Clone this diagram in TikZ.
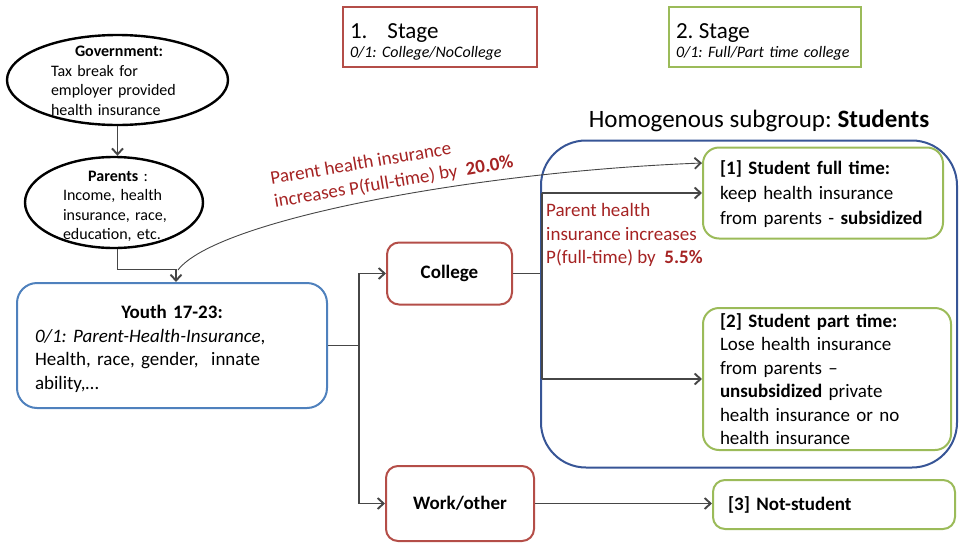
\documentclass[tikz,border=0pt]{standalone}
\usepackage{fontspec}
\setmainfont{Carlito}
\frenchspacing
\usetikzlibrary{positioning, shapes.geometric, arrows.meta, calc}

\definecolor{boxred}{RGB}{180,78,72}
\definecolor{boxgreen}{RGB}{155,187,89}
\definecolor{youthblue}{RGB}{79,129,189}
\definecolor{groupblue}{RGB}{55,85,150}
\definecolor{labelred}{RGB}{165,35,35}
\definecolor{linegray}{RGB}{70,70,70}

\tikzset{
	oval/.style={ellipse, draw=black, line width=2.4pt, inner sep=0pt},
	ovaltext/.style={font=\fontsize{16}{19.5}\selectfont, align=left, inner sep=0pt},
	stagebox/.style={draw=#1, line width=2pt, minimum height=60, inner ysep=0pt, align=left, font=\fontsize{16}{19}\selectfont},
	redbox/.style={draw=boxred, line width=2pt, rounded corners=12pt},
	greenbox/.style={draw=boxgreen, line width=2pt, rounded corners=16pt, align=left},
	conn/.style={draw=linegray, line width=1.1pt},
	arr/.style={conn, -{Straight Barb[length=6pt, width=11pt, line width=1.9pt]}},
	redlabel/.style={text=labelred, align=left, inner sep=0pt},
}

\begin{document}
\begin{tikzpicture}[x=1pt, y=-1pt, font=\fontsize{19}{23.5}\selectfont]
		\useasboundingbox (0,0) rectangle (959,544);
		
		% stages
		\node[stagebox=boxred, minimum width=194, text width=180, inner xsep=7] (stage1) at (440,37) {\rule{0pt}{25pt}{\fontsize{23}{26}\selectfont 1.\hspace{20pt}Stage}\\ \textit{0/1: College/NoCollege}};
		\node[stagebox=boxgreen, minimum width=192, text width=182, inner xsep=5] (stage2) at (765,37) {\rule{0pt}{25pt}\hspace{2pt}{\fontsize{23}{26}\selectfont 2. Stage}\\ \hspace*{2pt}\textit{0/1: Full/Part time college}};
		
		% left column
		\node[oval, minimum width=221, minimum height=90, label={[ovaltext, text width=136, xshift=1.5pt, yshift=-1pt]center:{\makebox[\linewidth]{\textbf{Government:}}\\ Tax break for\\ employer provided\\ health insurance}}] (gov) at (117.5,80) {};
		\node[oval, minimum width=178, minimum height=91, label={[ovaltext, text width=110, xshift=4pt, yshift=-4pt]center:{\makebox[\linewidth]{\textbf{Parents} :}\\ Income, health\\ insurance, race,\\ education, etc.}}] (par) at (114,202.5) {};
		
		\node[draw=youthblue, line width=2pt, rounded corners=20pt, minimum width=310, minimum height=125, text width=274, inner xsep=18, align=left] (youth) at (172,345.5) {\rule{0pt}{20pt}\makebox[\linewidth]{\textbf{Youth 17-23:}}\\ \textit{0/1: Parent-Health-Insurance}, \\ Health, race, gender,\ \ innate\\ ability,…};
		
		\node[redbox, minimum width=125, minimum height=62] (college) at (449.5,273.5) {\textbf{College}};
		\node[redbox, minimum width=148, minimum height=75] (work) at (460,503.5) {\textbf{Work/other}};
		
		% students group
		\node[draw=groupblue, line width=2pt, rounded corners=45pt, minimum width=416, minimum height=327] (stud) at (749,304) {};
		\node[font=\fontsize{25}{29}\selectfont, inner sep=0pt] (studtitle) at (759,121) {Homogenous subgroup: \textbf{Students}};
		
		\node[greenbox, minimum width=240, minimum height=91, text width=206, inner xsep=17, font=\fontsize{19}{25}\selectfont] (full) at (823,193) {\rule{0pt}{17pt}\textbf{[1] Student full time:}\\ keep health insurance\\ from parents - \textbf{subsidized}};
		\node[greenbox, minimum width=248, minimum height=142, text width=214, inner xsep=17, inner ysep=0pt] (part) at (827,379) {\textbf{[2] Student part time:}\\ Lose health insurance\\ from parents --\\ \textbf{unsubsidized} private\\ health insurance or no\\ health insurance};
		\node[greenbox, rounded corners=12pt, minimum width=242, minimum height=49, text width=212, inner xsep=15] (notst) at (834,504.5) {\textbf{[3] Not-student}};
		
		% effect labels
		\node[redlabel, rotate=9.5] (pct1) at (392,171) {Parent health insurance\\ increases P(full-time) by\ \ \textbf{20.0\%}};
		\node[redlabel, anchor=west] (pct2) at ($(stud.west)+(6,-69)$) {Parent health\\ insurance increases\\ P(full-time) by\ \ \textbf{5.5\%}};
		
		% connectors
		\draw[arr] (gov.south) -- (gov.south |- par.north);
		\draw[arr] (gov.south |- par.south) -- ++(0,20) -| ($(youth.north)+(4,0)$);
		\draw[arr] (youth.east) -- ++(31,0) |- (college.west);
		\draw[arr] (youth.east) -- ++(31,0) |- (work.west);
		\draw[conn] (college.east) -- (college.east -| stud.west);
		\draw[conn] ($(stud.west |- full.west)+(2,0)$) -- ($(stud.west |- part.west)+(2,0)$);
		\draw[arr] ($(stud.west |- full.west)+(2,0)$) -- (full.west);
		\draw[arr] ($(stud.west |- part.west)+(2,0)$) -- (part.west);
		\draw[arr] (work.east) -- (work.east -| notst.west);
		\draw[arr, line width=0.9pt] ($(youth.north)+(6,-12)$) .. controls +(37,-49) and +(-233,9) .. ($(full.west)+(0,-30)$);
	\end{tikzpicture}
\end{document}
